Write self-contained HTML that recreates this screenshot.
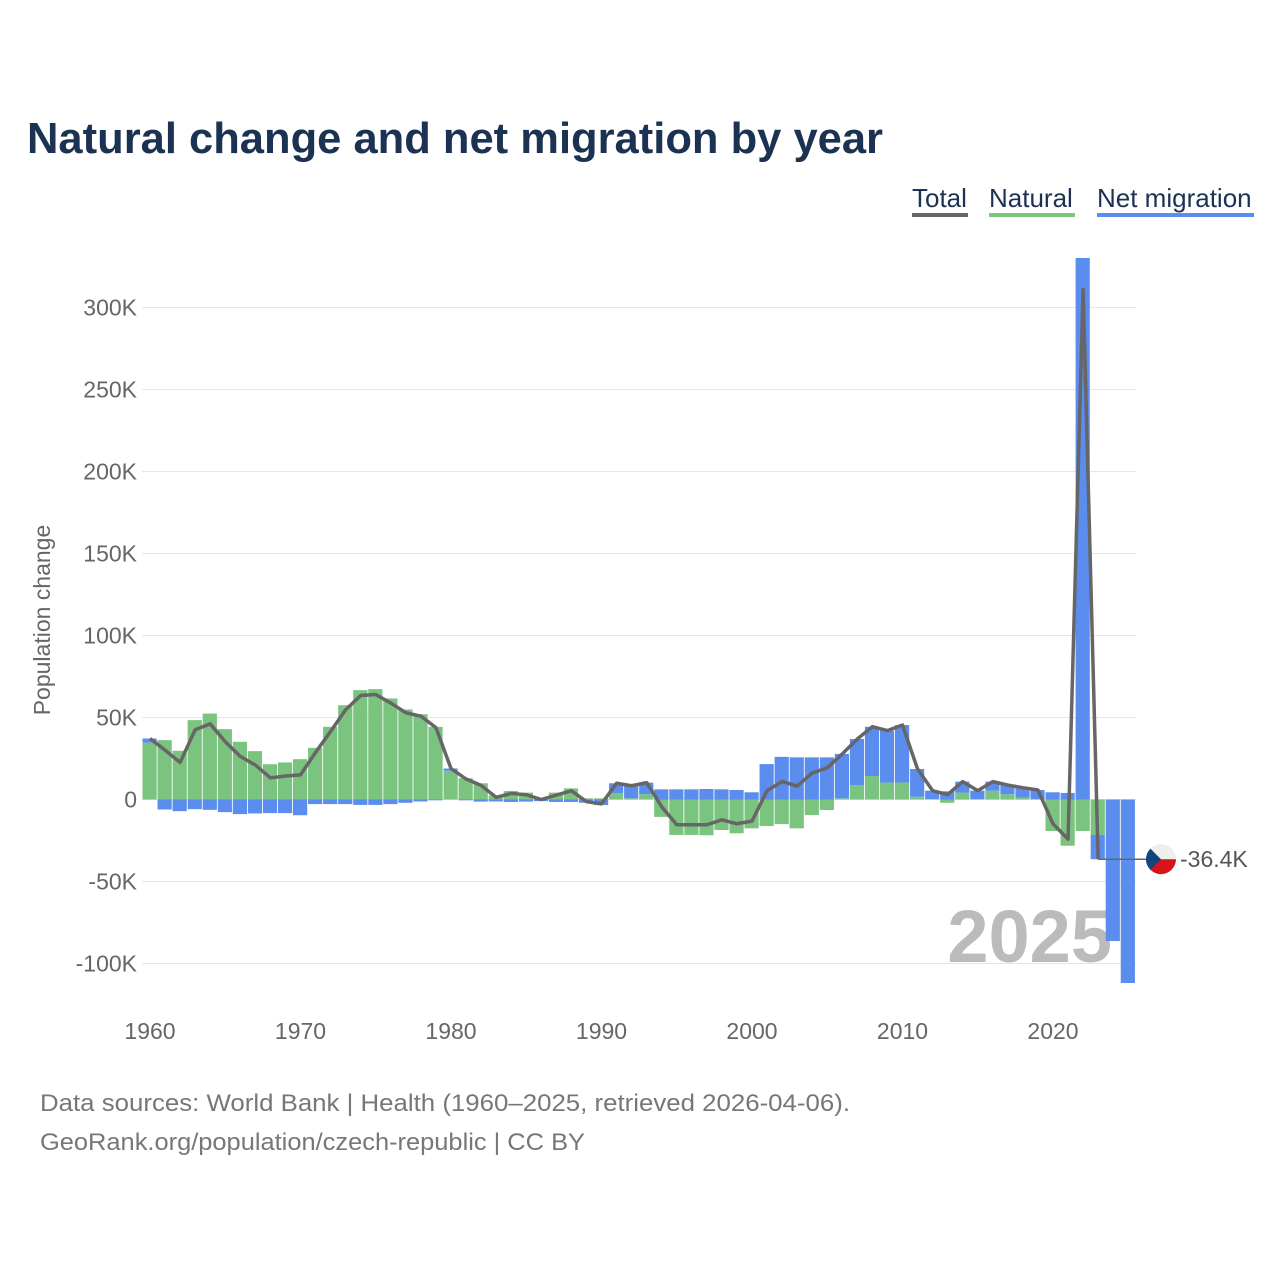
<!DOCTYPE html>
<html><head><meta charset="utf-8"><style>
body{margin:0;background:#fff;font-family:"Liberation Sans",sans-serif;}
#wrap{position:relative;width:1280px;height:1280px;overflow:hidden;}
</style></head><body>
<div id="wrap">
<svg id="chart" width="1280" height="1280">
<text x="27" y="153" font-size="44" font-weight="bold" fill="#1b3252" textLength="856" lengthAdjust="spacingAndGlyphs">Natural change and net migration by year</text>
<g font-size="26" fill="#1b3252">
<g><text x="912" y="207">Total</text><rect x="912" y="213" width="56" height="4" fill="#666"/></g>
<g><text x="989" y="207">Natural</text><rect x="989" y="213" width="86" height="4" fill="#7bc47f"/></g>
<g><text x="1097" y="207">Net migration</text><rect x="1097" y="213" width="157" height="4" fill="#5b8def"/></g>
</g>
<text transform="translate(50,620) rotate(-90)" text-anchor="middle" font-size="23" fill="#666">Population change</text>
<g id="grid"></g><g id="yticks"></g><g id="xticks"></g>
<text x="1112" y="962" text-anchor="end" font-size="74" font-weight="bold" fill="#bbb">2025</text>
<g id="bars"></g><g id="line"></g><g id="endlabel"></g>
<text x="40" y="1111" font-size="24" fill="#777" textLength="810" lengthAdjust="spacingAndGlyphs">Data sources: World Bank | Health (1960–2025, retrieved 2026-04-06).</text>
<text x="40" y="1150" font-size="24" fill="#777" textLength="545" lengthAdjust="spacingAndGlyphs">GeoRank.org/population/czech-republic | CC BY</text>
</svg>
</div>
<script>
const years=[];for(let y=1960;y<=2025;y++)years.push(y);
const natural=[34.6,36.2,29.7,48.4,52.4,42.9,35.2,29.5,21.5,22.6,24.6,31.5,44.3,57.5,66.7,67.3,61.6,54.9,52,44.3,17.5,13,9.9,2.5,5.2,4.2,1,4.2,6.8,0.7,0.7,3.8,0.7,3.2,-10.6,-21.6,-21.6,-21.8,-18.6,-20.6,-17.6,-16.2,-15,-17.6,-9.5,-6.4,0.7,8.8,14.3,10.3,10.3,1.7,0.2,-2,4.2,0.3,5.4,3.2,1.1,0.3,-19.2,-28.2,-19.2,-21.6,null,null];
const migration=[2.6,-6.1,-7.1,-5.9,-6.3,-7.7,-8.9,-8.5,-8.3,-8.3,-9.6,-2.8,-2.8,-2.8,-3.3,-3.3,-2.8,-2,-1.2,-0.5,1.4,-0.5,-1.3,-1.2,-1.5,-1.3,-1,-1.5,-1.5,-2,-3.4,6.1,7.7,7.1,6.2,6.2,6.2,6.4,6.2,5.8,4.4,21.6,26,25.7,25.7,25.7,27.1,28.1,30.1,31.7,35.1,16.9,5.2,5,6.7,5.1,5.5,5.6,6.1,5.5,4.4,4,330.2,-14.8,-86.3,-111.9];
const yTickValues=[-100,-50,0,50,100,150,200,250,300];
const yTickLabels=["-100K","-50K","0","50K","100K","150K","200K","250K","300K"];
const xTickValues=[1960,1970,1980,1990,2000,2010,2020];
const NS="http://www.w3.org/2000/svg";
const X=y=>150+(y-1960)*15.05;
const Y=v=>799.5-v*1.64;
function mk(t,a,p){const e=document.createElementNS(NS,t);for(const k in a)e.setAttribute(k,a[k]);p.appendChild(e);return e;}
const grid=document.getElementById('grid'),yt=document.getElementById('yticks'),xt=document.getElementById('xticks');
yTickValues.forEach((v,i)=>{
 const l=mk('line',{x1:142,x2:1136,y1:Y(v),y2:Y(v),stroke:'#e6e6e6','stroke-width':1},grid);
 
 
 const t=mk('text',{x:137,y:Y(v)+8,'text-anchor':'end','font-size':23,fill:'#666'},yt);
 t.textContent=yTickLabels[i];
 
 
});
xTickValues.forEach(v=>{
 const t=mk('text',{x:X(v),y:1039,'text-anchor':'middle','font-size':23,fill:'#666'},xt);
 t.textContent=v;
 
 
});
const bars=document.getElementById('bars');
years.forEach((yr,i)=>{
 let pos=0,neg=0;
 [[natural[i],'#7bc47f','bar-natural'],[migration[i],'#5b8def','bar-migration']].forEach(([v,c,n])=>{
  if(v==null)return;
  let y0,y1;
  if(v>=0){y0=pos;y1=pos+v;pos=y1;}else{y0=neg;y1=neg+v;neg=y1;}
  const r=mk('rect',{x:X(yr)-7.5,width:14.2,y:Math.min(Y(y0),Y(y1)),height:Math.abs(Y(y1)-Y(y0)),fill:c},bars);
  
  
 });
});
const pts=[];years.forEach((yr,i)=>{if(natural[i]!=null)pts.push([X(yr),Y(natural[i]+migration[i])]);});
const line=document.getElementById('line');
const pl=mk('polyline',{points:pts.map(p=>p.join(',')).join(' '),fill:'none',stroke:'#666','stroke-width':3.5,'stroke-linejoin':'round'},line);


const last=pts[pts.length-1];
const el=document.getElementById('endlabel');
const cy=Y(-36.4);
const ln=mk('line',{x1:last[0],x2:1147,y1:cy,y2:cy,stroke:'#666','stroke-width':1.5},el);


const fg=mk('g',{},el);


mk('circle',{cx:1161,cy:cy,r:15,fill:'#eee'},fg);
mk('path',{d:`M1146,${cy} A15,15 0 0 0 1176,${cy} Z`,fill:'#d7141a'},fg);
mk('path',{d:`M1150.4,${cy-10.6} L1161,${cy} L1150.4,${cy+10.6} A15,15 0 0 1 1150.4,${cy-10.6} Z`,fill:'#11457e'},fg);
const lt=mk('text',{x:1180,y:cy+8,'font-size':23,fill:'#555'},el);
lt.textContent='-36.4K';


</script>
</body></html>
